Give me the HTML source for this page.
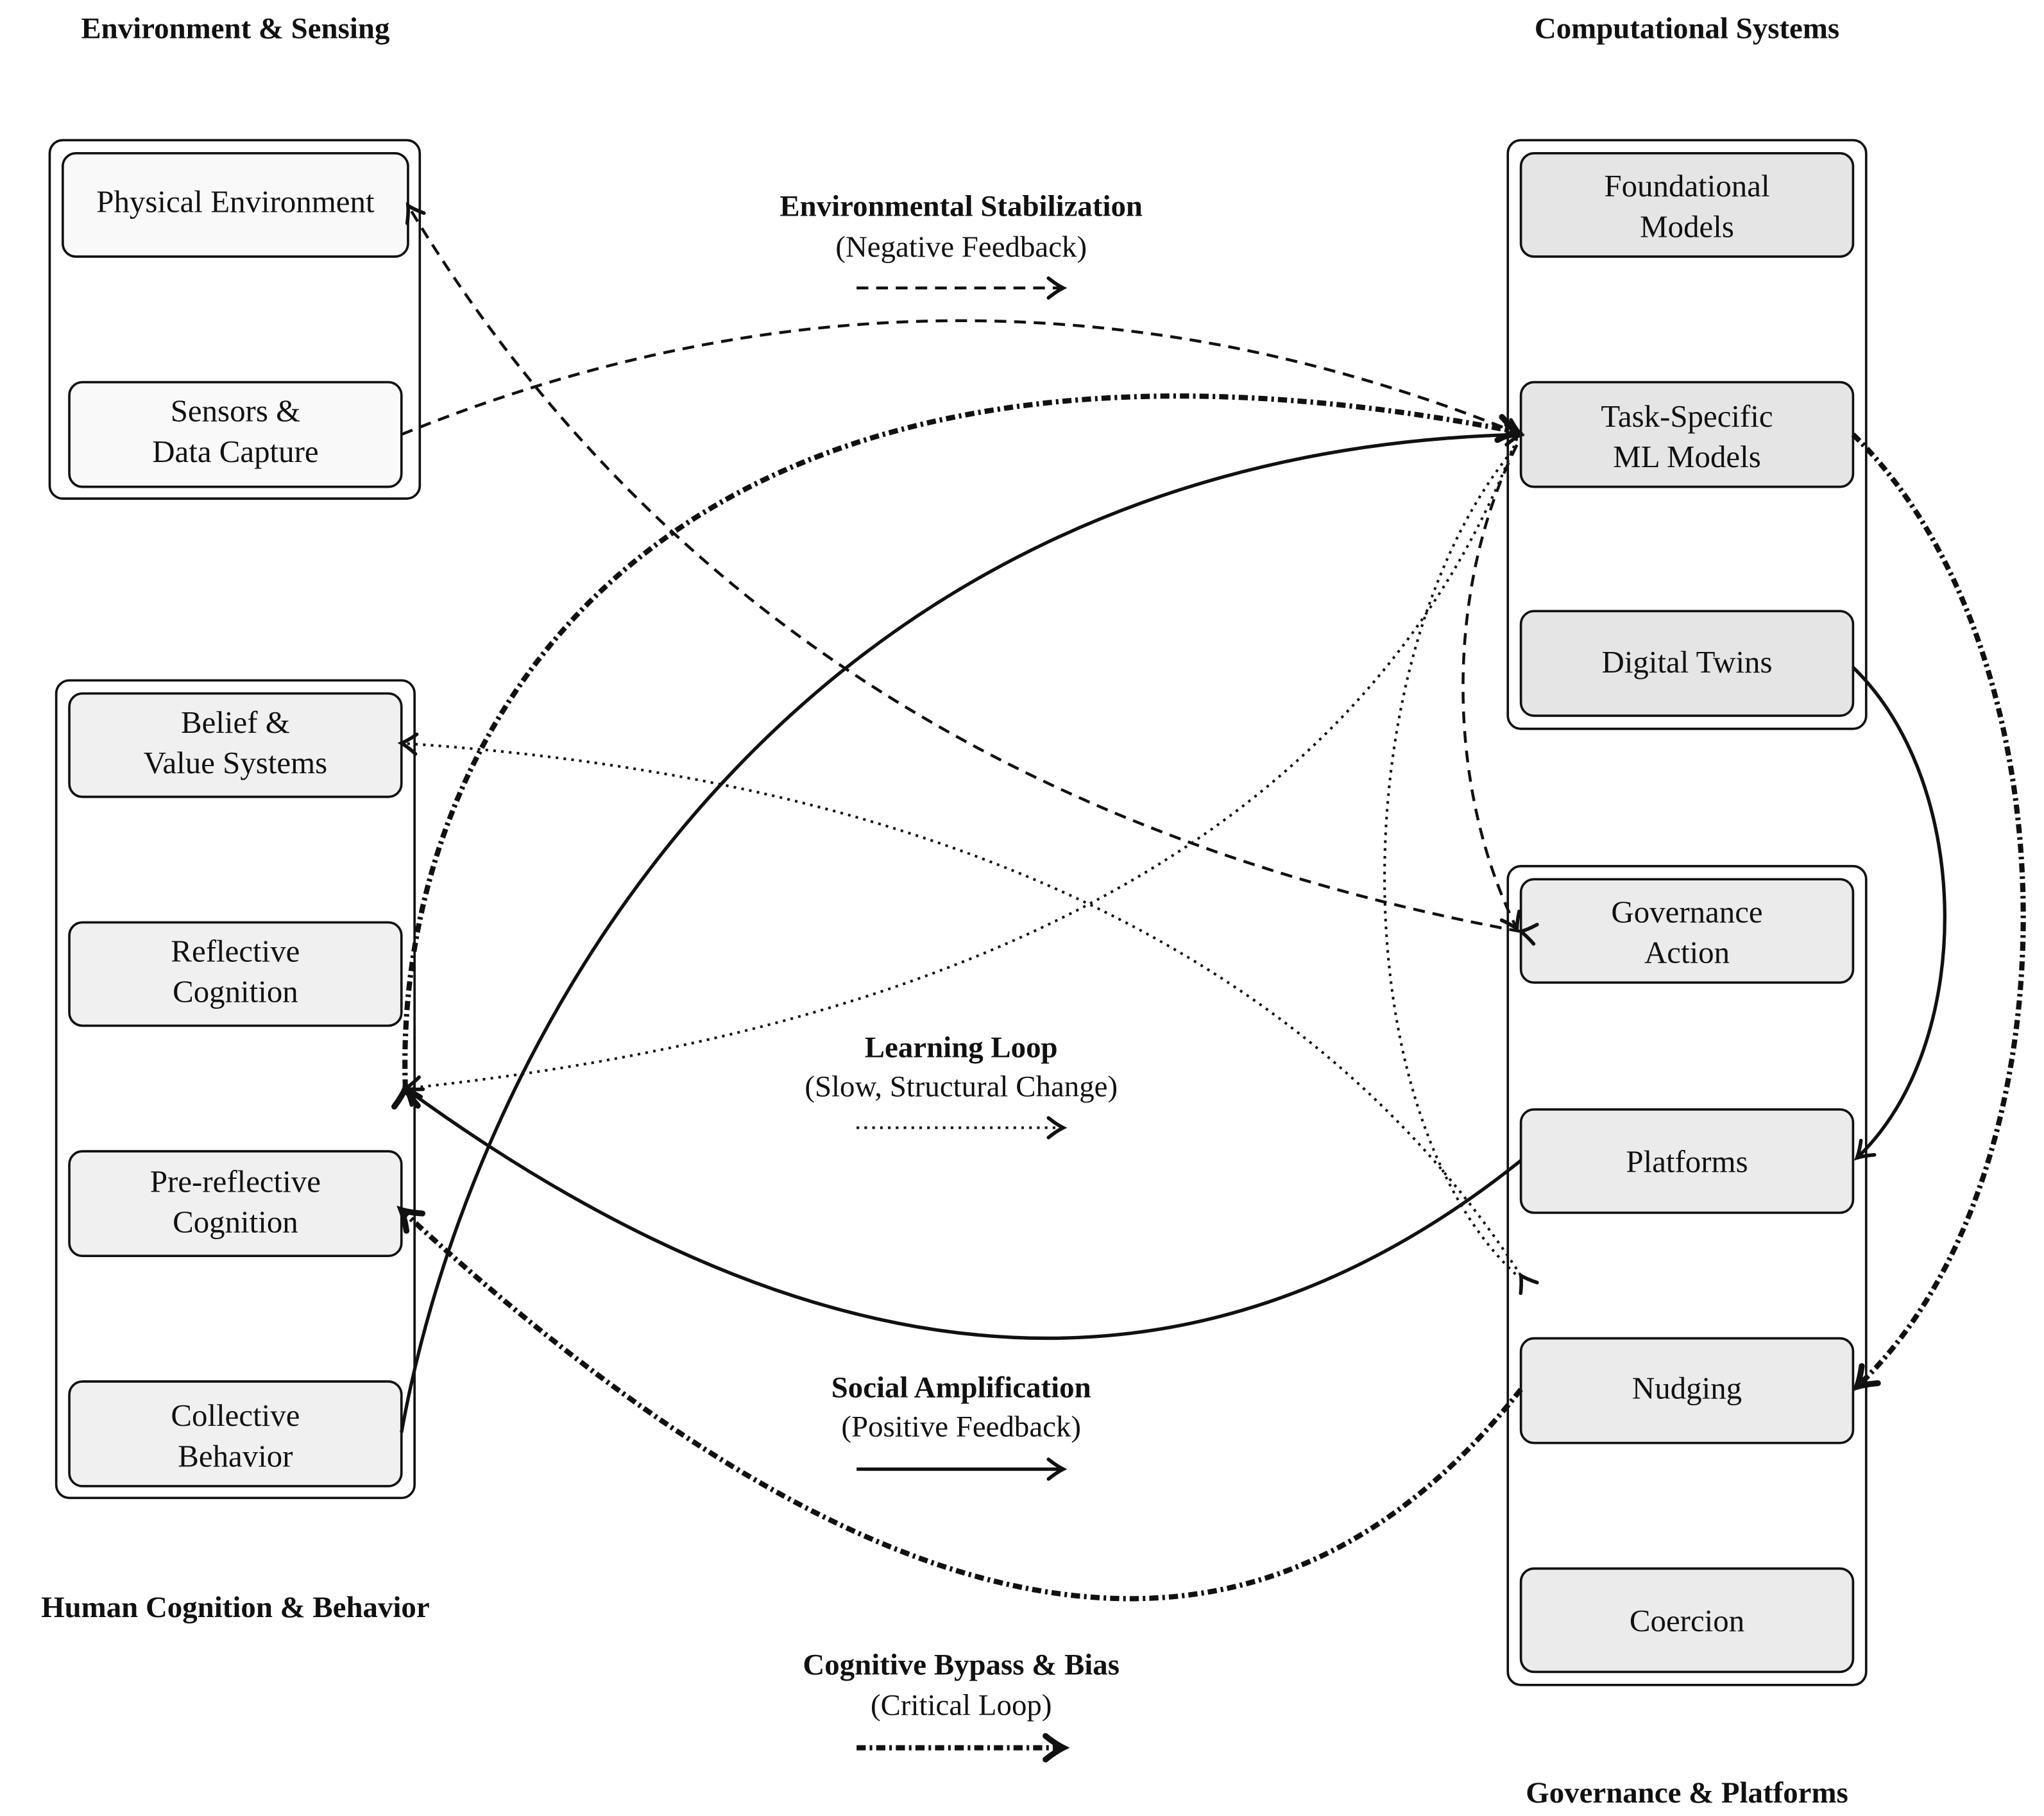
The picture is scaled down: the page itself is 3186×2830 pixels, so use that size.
<!DOCTYPE html>
<html><head><meta charset="utf-8"><style>html,body{margin:0;padding:0;background:#fff}svg{display:block}text{font-family:"Liberation Serif",serif;fill:#111}</style></head>
<body>
<svg width="3186" height="2830" viewBox="0 0 1563 1388" xmlns="http://www.w3.org/2000/svg">
<defs>
<marker id="a" markerUnits="userSpaceOnUse" markerWidth="20" markerHeight="20" refX="12" refY="8" orient="auto" viewBox="0 0 16 16">
<path d="M3,2 Q8,6 12,8 Q8,10 3,14" fill="none" stroke="#111" stroke-width="2.2" stroke-linecap="round"/>
</marker>
<marker id="b" markerUnits="userSpaceOnUse" markerWidth="24" markerHeight="24" refX="12" refY="8" orient="auto" viewBox="0 0 16 16">
<path d="M3,2 Q8,6 12,8 Q8,10 3,14" fill="none" stroke="#111" stroke-width="3" stroke-linecap="round"/>
</marker>
</defs>
<g fill="none" stroke="#111" stroke-width="1.8">
<rect x="38" y="107" width="283" height="274" rx="10"/>
<rect x="43" y="520" width="274" height="625" rx="10"/>
<rect x="1153" y="107" width="274" height="450" rx="10"/>
<rect x="1153" y="662" width="274" height="626" rx="10"/>
</g>
<g stroke="#111" stroke-width="1.8">
<rect x="48" y="117" width="264" height="79" rx="10" fill="#f9f9f9"/>
<rect x="53" y="292" width="254" height="80" rx="10" fill="#f9f9f9"/>
<rect x="53" y="530" width="254" height="79" rx="10" fill="#f0f0f0"/>
<rect x="53" y="705" width="254" height="79" rx="10" fill="#f0f0f0"/>
<rect x="53" y="880" width="254" height="80" rx="10" fill="#f0f0f0"/>
<rect x="53" y="1056" width="254" height="80" rx="10" fill="#f0f0f0"/>
<rect x="1163" y="117" width="254" height="79" rx="10" fill="#e5e5e5"/>
<rect x="1163" y="292" width="254" height="80" rx="10" fill="#e5e5e5"/>
<rect x="1163" y="467" width="254" height="80" rx="10" fill="#e5e5e5"/>
<rect x="1163" y="672" width="254" height="79" rx="10" fill="#ebebeb"/>
<rect x="1163" y="848" width="254" height="79" rx="10" fill="#ebebeb"/>
<rect x="1163" y="1023" width="254" height="80" rx="10" fill="#ebebeb"/>
<rect x="1163" y="1199" width="254" height="79" rx="10" fill="#ebebeb"/>
</g>
<g font-size="24" text-anchor="middle">
<text x="180" y="162">Physical Environment</text>
<text x="180" y="322">Sensors &amp;</text><text x="180" y="353">Data Capture</text>
<text x="180" y="560">Belief &amp;</text><text x="180" y="591">Value Systems</text>
<text x="180" y="735">Reflective</text><text x="180" y="766">Cognition</text>
<text x="180" y="911">Pre-reflective</text><text x="180" y="942">Cognition</text>
<text x="180" y="1090">Collective</text><text x="180" y="1121">Behavior</text>
<text x="1290" y="150">Foundational</text><text x="1290" y="181">Models</text>
<text x="1290" y="326">Task-Specific</text><text x="1290" y="357">ML Models</text>
<text x="1290" y="514">Digital Twins</text>
<text x="1290" y="705">Governance</text><text x="1290" y="736">Action</text>
<text x="1290" y="896">Platforms</text>
<text x="1290" y="1069">Nudging</text>
<text x="1290" y="1247">Coercion</text>
</g>
<g font-size="23" text-anchor="middle" font-weight="bold">
<text x="180" y="29">Environment &amp; Sensing</text>
<text x="1290" y="29">Computational Systems</text>
<text x="180" y="1236">Human Cognition &amp; Behavior</text>
<text x="1290" y="1378">Governance &amp; Platforms</text>
<text x="735" y="165">Environmental Stabilization</text>
<text x="735" y="808">Learning Loop</text>
<text x="735" y="1068">Social Amplification</text>
<text x="735" y="1280">Cognitive Bypass &amp; Bias</text>
</g>
<g font-size="23" text-anchor="middle">
<text x="735" y="196">(Negative Feedback)</text>
<text x="735" y="838">(Slow, Structural Change)</text>
<text x="735" y="1098">(Positive Feedback)</text>
<text x="735" y="1311">(Critical Loop)</text>
</g>
<g fill="none" stroke="#111">
<!-- legend -->
<path d="M655,220 L813,220" stroke-width="2.2" stroke-dasharray="9,6" marker-end="url(#a)"/>
<path d="M655,862 L813,862" stroke-width="2" stroke-dasharray="2,4" marker-end="url(#a)"/>
<path d="M655,1123 L813,1123" stroke-width="2.6" marker-end="url(#a)"/>
<path d="M655,1336 L813,1336" stroke-width="4" stroke-dasharray="7,3,2,3" marker-end="url(#b)"/>
<!-- dashed -->
<path d="M307,332 Q735,158 1163,332" stroke-width="2.2" stroke-dasharray="9,6" marker-end="url(#a)"/>
<path d="M1163,712 Q582,605 312,157" stroke-width="2.2" stroke-dasharray="9,6" marker-end="url(#a)" marker-start="url(#a)"/>
<path d="M1160,340 C1105,450 1105,600 1160,710" stroke-width="2.2" stroke-dasharray="9,6" marker-end="url(#a)"/>
<!-- dotted -->
<path d="M1163,975 Q925,608 307,568" stroke-width="2" stroke-dasharray="2,4" marker-end="url(#a)" marker-start="url(#a)"/>
<path d="M1160,335 Q1000,760 310,832" stroke-width="2" stroke-dasharray="2,4" marker-end="url(#a)"/>
<path d="M1160,340 C1025,500 1025,850 1160,975" stroke-width="2" stroke-dasharray="2,4"/>
<!-- solid -->
<path d="M307,1095 C360,800 600,345 1163,332" stroke-width="2.6" marker-end="url(#a)"/>
<path d="M1163,887 Q793,1184 310,832" stroke-width="2.6" marker-end="url(#a)"/>
<path d="M1417,510 C1510,600 1510,800 1420,885" stroke-width="2.6" marker-end="url(#a)"/>
<!-- dash-dot thick -->
<path d="M1417,332 C1590,500 1590,900 1420,1060" stroke-width="4" stroke-dasharray="7,3,2,3" marker-end="url(#b)"/>
<path d="M1163,1062 Q865,1440 307,925" stroke-width="4" stroke-dasharray="7,3,2,3" marker-end="url(#b)"/>
<path d="M310,832 C300,560 500,200 1160,330" stroke-width="4" stroke-dasharray="7,3,2,3" marker-end="url(#b)" marker-start="url(#b)"/>
</g>
</svg>
</body></html>
